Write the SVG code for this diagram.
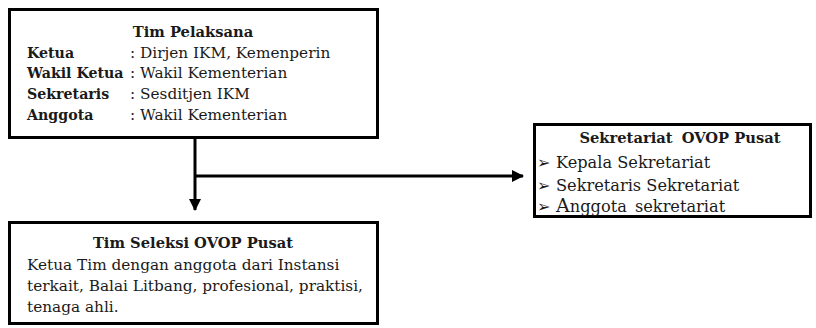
<svg xmlns="http://www.w3.org/2000/svg" width="816" height="328" viewBox="0 0 816 328">
<style>
.box{fill:#fff;stroke:#000;stroke-width:3}
.t{font-family:"DejaVu Serif","Liberation Serif",serif;font-size:15.3px;fill:#1a1a1a}
.b{font-weight:bold;font-size:14.7px}
.l{font-size:14.2px}
.s{font-size:16.2px}
.c{stroke:#000;stroke-width:3;fill:none}
.bul{font-family:"DejaVu Sans",sans-serif;font-size:16px;fill:#1a1a1a}
</style>
<defs>
<marker id="ah" markerWidth="12" markerHeight="12" refX="11" refY="6" orient="auto" markerUnits="userSpaceOnUse">
<path d="M0,0 L12,6 L0,12 Z" fill="#000"/>
</marker>
</defs>
<g id="tim-pelaksana">
<rect class="box" x="9.5" y="9.5" width="368" height="128"/>
<text class="t b" x="193" y="37" text-anchor="middle">Tim Pelaksana</text>
<text class="t b l" x="27" y="58">Ketua</text>
<text class="t" x="130" y="58">: Dirjen IKM, Kemenperin</text>
<text class="t b l" x="27" y="78">Wakil Ketua</text>
<text class="t" x="130" y="78">: Wakil Kementerian</text>
<text class="t b l" x="27" y="99">Sekretaris</text>
<text class="t" x="130" y="99">: Sesditjen IKM</text>
<text class="t b l" x="27" y="120">Anggota</text>
<text class="t" x="130" y="120">: Wakil Kementerian</text>
</g>
<g id="tim-seleksi">
<rect class="box" x="9.5" y="222.5" width="368" height="101"/>
<text class="t b" x="193" y="248" text-anchor="middle">Tim Seleksi OVOP Pusat</text>
<text class="t" x="27" y="270">Ketua Tim dengan anggota dari Instansi</text>
<text class="t" x="27" y="291">terkait, Balai Litbang, profesional, praktisi,</text>
<text class="t" x="27" y="312">tenaga ahli.</text>
</g>
<g id="sekretariat">
<rect class="box" x="534.5" y="124.5" width="276" height="92"/>
<text class="t b" x="680" y="143" text-anchor="middle">Sekretariat <tspan dx="4">OVOP Pusat</tspan></text>
<text class="bul" x="537" y="168">➢</text>
<text class="t s" x="556" y="168">Kepala Sekretariat</text>
<text class="bul" x="537" y="191">➢</text>
<text class="t s" x="556" y="191">Sekretaris Sekretariat</text>
<text class="bul" x="537" y="212">➢</text>
<text class="t s" x="556" y="212"><tspan font-size="19px">A</tspan>nggota <tspan dx="3">sekretariat</tspan></text>
</g>
<g id="connectors">
<path class="c" d="M195,138 V210" marker-end="url(#ah)"/>
<path class="c" d="M195,176 H523" marker-end="url(#ah)"/>
</g>
</svg>
